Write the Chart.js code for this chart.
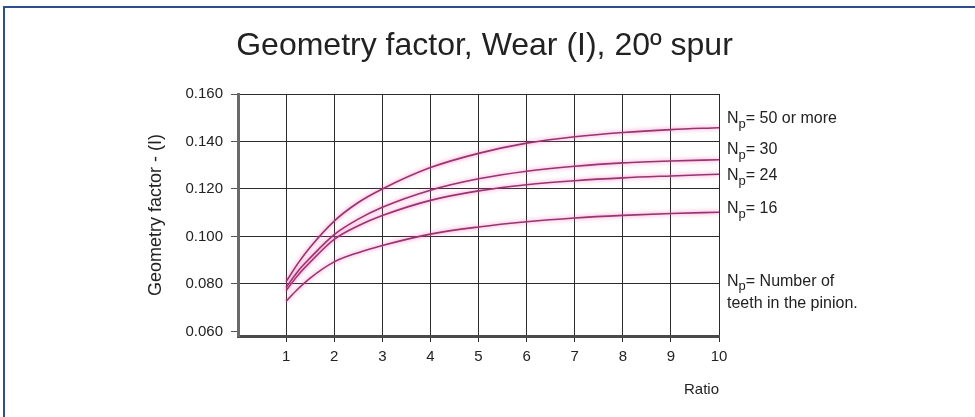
<!DOCTYPE html>
<html>
<head>
<meta charset="utf-8">
<script src="https://cdn.jsdelivr.net/npm/chart.js@4/dist/chart.umd.min.js"></script>
<style>
  html, body { margin: 0; padding: 0; background: #fff; }
  body { width: 975px; height: 417px; position: relative; overflow: hidden; }
  .frame {
    position: absolute; left: 3px; top: 6px; width: 1100px; height: 600px;
    border-top: 2px solid #2e4f8e; border-left: 2px solid #2e4f8e;
  }
  #chart { position: absolute; left: 0; top: 0; }
</style>
</head>
<body>
<div class="frame"></div>
<canvas id="chart" width="975" height="417"></canvas>
<script>
/* ── DATA ── */

const ratio = [1, 1.25, 1.5, 2, 2.5, 3, 4, 5, 6, 7, 8, 9, 10];

const np50 = [0.0810, 0.0888, 0.0955, 0.1065, 0.1143, 0.1200, 0.1290, 0.1350, 0.1393, 0.1420, 0.1438, 0.1450, 0.1458];
const np30 = [0.0785, 0.0855, 0.0910, 0.1008, 0.1073, 0.1123, 0.1195, 0.1243, 0.1275, 0.1296, 0.1310, 0.1318, 0.1323];
const np24 = [0.0772, 0.0838, 0.0892, 0.0988, 0.1045, 0.1088, 0.1152, 0.1192, 0.1218, 0.1235, 0.1247, 0.1255, 0.1262];
const np16 = [0.0727, 0.0780, 0.0825, 0.0893, 0.0932, 0.0962, 0.1010, 0.1040, 0.1062, 0.1078, 0.1089, 0.1097, 0.1102];

const xTicks = [1, 2, 3, 4, 5, 6, 7, 8, 9, 10];
const yTicks = [0.06, 0.08, 0.10, 0.12, 0.14, 0.16];

const chartTitle = 'Geometry factor, Wear (I), 20º spur';

// right-hand notes and the y value each one sits at
const noteText  = ['= 50 or more', '= 30', '= 24', '= 16', '= Number of'];
const noteAt    = [0.1495, 0.1364, 0.1255, 0.1116, 0.0810];
const noteExtra = 'teeth in the pinion.';

/* ── STYLE ── */

const FONT  = 'Liberation Sans, Arial, sans-serif';
const INK   = '#222';
const LINE  = '#9a3371';
const GRID  = '#2b2b2b';

const series = [np50, np30, np24, np16].map(vals => ({
  data: ratio.map((x, i) => ({ x, y: vals[i] })),
  borderColor: LINE,
  borderWidth: 1.6,
  pointRadius: 0,
  cubicInterpolationMode: 'monotone',
  fill: false
}));

/* ── PLUGINS ── */

// soft pink halo round every curve
const glow = {
  id: 'glow',
  beforeDatasetsDraw(chart) {
    const c = chart.ctx;
    c.save();
    c.shadowColor = 'rgba(240, 100, 175, 0.9)';
    c.shadowBlur = 4;
  },
  afterDatasetsDraw(chart) { chart.ctx.restore(); }
};

// page title plus the N_p notes to the right of the plot
const notes = {
  id: 'notes',
  afterDraw(chart) {
    const c = chart.ctx;
    const ys = chart.scales.y;
    const x0 = chart.chartArea.right + 8;
    c.save();
    c.fillStyle = INK;
    c.textBaseline = 'middle';

    c.textAlign = 'center';
    c.font = '32px ' + FONT;
    c.fillText(chartTitle, chart.width / 2 - 3, 46);

    c.textAlign = 'left';
    noteText.forEach((t, i) => {
      const y = ys.getPixelForValue(noteAt[i]);
      c.font = '16px ' + FONT;
      c.fillText('N', x0, y);
      const wN = c.measureText('N').width;
      c.font = '13px ' + FONT;
      c.fillText('p', x0 + wN, y + 5);
      const wp = c.measureText('p').width;
      c.font = '16px ' + FONT;
      c.fillText(t, x0 + wN + wp, y);
    });
    c.fillText(noteExtra, x0, ys.getPixelForValue(noteAt[4]) + 22);
    c.restore();
  }
};

/* ── CHART ── */

new Chart(document.getElementById('chart'), {
  type: 'line',
  data: { datasets: series },
  plugins: [glow, notes],
  options: {
    responsive: false,
    animation: false,
    layout: { padding: { left: 0, right: 256, top: 94, bottom: 0 } },
    plugins: {
      legend: { display: false },
      tooltip: { enabled: false }
    },
    scales: {
      x: {
        type: 'linear',
        min: 0,
        max: 10,
        afterBuildTicks: s => { s.ticks = xTicks.map(v => ({ value: v })); },
        afterFit: s => { s.height = 81; },
        ticks: { color: INK, font: { family: FONT, size: 15 }, padding: 6, maxRotation: 0 },
        grid: { color: GRID, lineWidth: 1, tickLength: 6, tickColor: GRID },
        border: { color: '#4a4a4a', width: 3 },
        title: {
          display: true,
          text: 'Ratio',
          align: 'end',
          color: INK,
          font: { family: FONT, size: 15 },
          padding: { top: 18, bottom: 18 }
        }
      },
      y: {
        min: 0.0581,
        max: 0.160,
        afterBuildTicks: s => { s.ticks = yTicks.map(v => ({ value: v })); },
        afterFit: s => { s.width = 238; },
        ticks: {
          color: INK,
          font: { family: FONT, size: 15 },
          padding: 8,
          callback: v => v.toFixed(3)
        },
        grid: {
          color: ctx => (ctx.tick && ctx.tick.value < 0.07 ? 'rgba(0,0,0,0)' : GRID),
          tickColor: '#555',
          lineWidth: 1,
          tickLength: 7
        },
        border: { color: '#6a6a6a', width: 3 },
        title: {
          display: true,
          text: 'Geometry factor - (I)',
          color: INK,
          font: { family: FONT, size: 18 },
          padding: { top: 145, bottom: 0 }
        }
      }
    }
  }
});
</script>
</body>
</html>
